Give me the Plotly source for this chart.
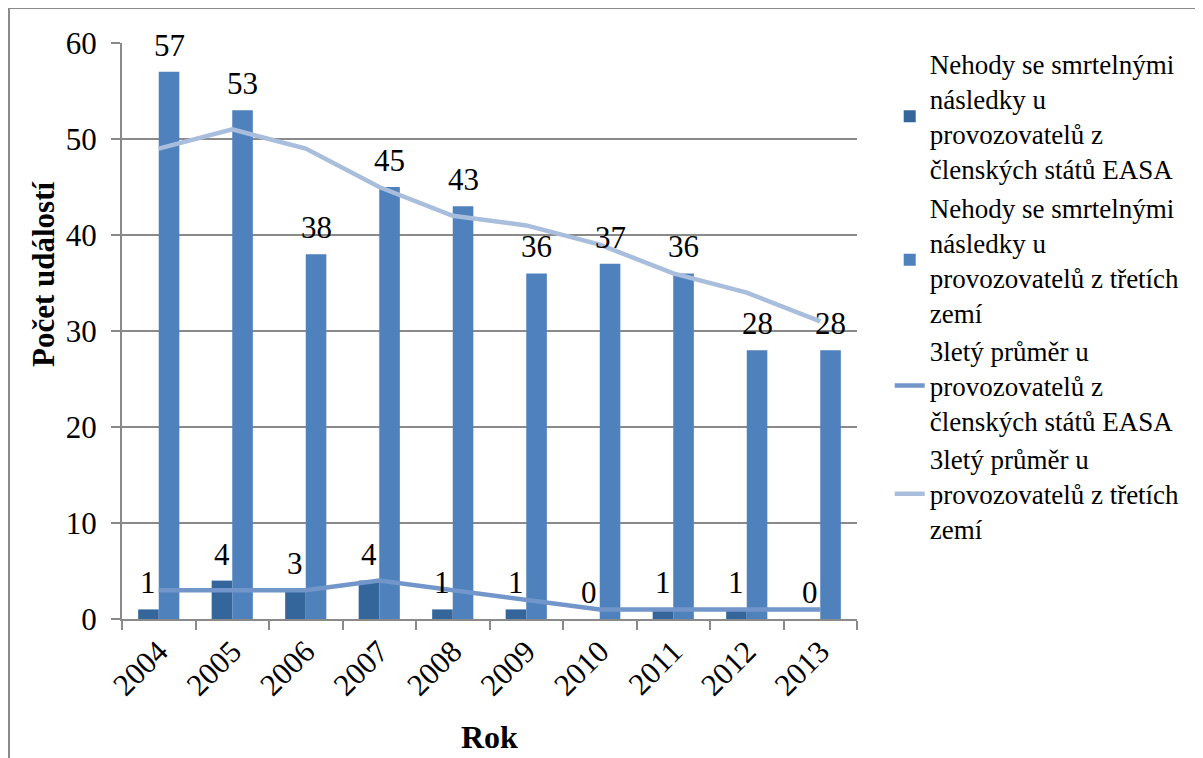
import plotly.graph_objects as go

years = ["2004", "2005", "2006", "2007", "2008", "2009", "2010", "2011", "2012", "2013"]
easa_fatal = [1, 4, 3, 4, 1, 1, 0, 1, 1, 0]
third_fatal = [57, 53, 38, 45, 43, 36, 37, 36, 28, 28]
easa_avg3 = [3, 3, 3, 4, 3, 2, 1, 1, 1, 1]
third_avg3 = [49, 51, 49, 45, 42, 41, 39, 36, 34, 31]

names = [
    "Nehody se smrtelnými<br>následky u<br>provozovatelů z<br>členských států EASA",
    "Nehody se smrtelnými<br>následky u<br>provozovatelů z třetích<br>zemí",
    "3letý průměr u<br>provozovatelů z<br>členských států EASA",
    "3letý průměr u<br>provozovatelů z třetích<br>zemí",
]

FONT = "Liberation Serif"
NUM = 31
C_DARK = "#34659b"
C_LIGHT = "#4f81bd"
C_L1 = "#7396ca"
C_L2 = "#a9bddc"
GRID = "#8a8a8a"

# page body has an 8px margin; the figure is placed at (8, 8)
OFF = 8
L, T, PW, PH = 122 - OFF, 43 - OFF, 735, 576
W, H = 1203 - OFF, 758 - OFF

fig = go.Figure()
fig.add_trace(go.Bar(x=years, y=easa_fatal, name=names[0], marker_color=C_DARK,
                     marker_line_width=0))
fig.add_trace(go.Bar(x=years, y=third_fatal, name=names[1], marker_color=C_LIGHT,
                     marker_line_width=0))
fig.add_trace(go.Scatter(x=years, y=easa_avg3, name=names[2], mode="lines",
                         line=dict(color=C_L1, width=4.5)))
fig.add_trace(go.Scatter(x=years, y=third_avg3, name=names[3], mode="lines",
                         line=dict(color=C_L2, width=4.5)))

annotations = []
for i, v in enumerate(easa_fatal):
    annotations.append(dict(x=i, y=v, xref="x", yref="y", text=str(v), showarrow=False,
                            xshift=-10.3, yshift=7, yanchor="bottom",
                            font=dict(family=FONT, size=NUM, color="black")))
for i, v in enumerate(third_fatal):
    annotations.append(dict(x=i, y=v, xref="x", yref="y", text=str(v), showarrow=False,
                            xshift=10.3, yshift=7, yanchor="bottom",
                            font=dict(family=FONT, size=NUM, color="black")))

annotations.append(dict(x=(43 - 122) / PW, y=(619 - 274) / PH, xref="paper", yref="paper",
                        text="<b>Počet událostí</b>", textangle=-90, showarrow=False,
                        xanchor="center", yanchor="middle",
                        font=dict(family=FONT, size=31, color="black")))
annotations.append(dict(x=0.5, y=(619 - 737) / PH, xref="paper", yref="paper",
                        text="<b>Rok</b>", showarrow=False,
                        xanchor="center", yanchor="middle",
                        font=dict(family=FONT, size=32, color="black")))

fig.update_layout(
    width=W, height=H,
    margin=dict(l=L, r=W - L - PW, t=T, b=H - T - PH),
    paper_bgcolor="white", plot_bgcolor="white",
    barmode="group", bargap=0.44, bargroupgap=0,
    font=dict(family=FONT, size=NUM, color="black"),
    showlegend=True,
    legend=dict(x=1.0445, xanchor="left", y=1.006, yanchor="top",
                font=dict(family=FONT, size=27, color="black"),
                tracegroupgap=0, bgcolor="rgba(0,0,0,0)", maxheight=740),
    annotations=annotations,
    shapes=[dict(type="rect", xref="paper", yref="paper",
                 x0=(9 - 122) / PW, x1=1.8, y0=-0.5, y1=(619 - 8) / PH,
                 line=dict(color="#8a8a8a", width=2), fillcolor="rgba(0,0,0,0)", layer="below")],
)

fig.update_xaxes(type="category", range=[-0.5, len(years) - 0.5], autorange=False,
                 showgrid=False, showline=True, linecolor=GRID, linewidth=2,
                 ticks="outside", tickson="boundaries", ticklen=9, tickcolor=GRID, tickwidth=2,
                 tickangle=-45, tickfont=dict(family=FONT, size=NUM, color="black"))
fig.update_yaxes(range=[0, 60], dtick=10, showgrid=True, gridcolor=GRID, gridwidth=1.5,
                 showline=True, linecolor=GRID, linewidth=2, zeroline=False,
                 ticks="outside", ticklen=9, tickcolor=GRID, tickwidth=2,
                 ticklabelstandoff=8,
                 tickfont=dict(family=FONT, size=NUM, color="black"))

fig.write_html("out.html")
